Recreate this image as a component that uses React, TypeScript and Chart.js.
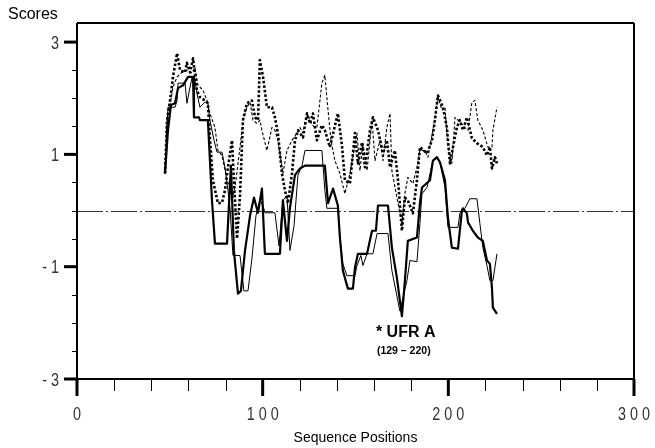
import { useEffect, useRef } from 'react';
import { Chart, registerables } from 'chart.js';

Chart.register(...registerables);

// ---- data (sequence position, score) ----
const thickSolidX = [47.4, 49.0, 50.6, 52.8, 54.4, 57.1, 59.8, 62.5, 63.0, 65.7, 66.2, 70.5, 72.7, 74.3, 80.8, 82.9, 84.5, 86.7, 88.3, 90.5, 93.2, 95.3, 97.5, 99.6, 101.2, 109.3, 110.9, 113.1, 114.7, 117.4, 120.1, 122.8, 133.5, 135.2, 137.9, 140.5, 141.6, 143.2, 145.9, 148.6, 149.7, 151.3, 156.2, 158.9, 161.0, 162.1, 167.5, 169.6, 172.3, 175.0, 176.6, 178.2, 183.1, 184.7, 185.8, 190.1, 191.7, 193.9, 195.5, 198.2, 199.8, 201.9, 205.2, 207.3, 207.9, 210.0, 210.6, 213.2, 215.9, 218.6, 220.8, 222.4, 223.5, 224.0, 226.2];
const thickSolidY = [0.66, 1.43, 1.88, 1.91, 2.18, 2.23, 2.38, 2.38, 1.66, 1.66, 1.61, 1.61, 0.18, -0.59, -0.59, 0.80, -0.71, -1.48, -1.43, -0.71, -0.09, 0.23, -0.04, 0.39, -0.77, -0.77, 0.18, -0.54, 0.05, 0.63, 0.75, 0.80, 0.80, 0.13, 0.39, 0.09, -0.48, -1.07, -1.39, -1.39, -1.02, -0.77, -0.77, -0.36, -0.36, 0.09, 0.09, -0.66, -1.20, -1.88, -1.25, -0.54, -0.48, 0.13, 0.41, 0.54, 0.89, 0.95, 0.86, 0.54, -0.13, -0.66, -0.68, 0.00, 0.04, -0.05, -0.21, -0.36, -0.48, -0.54, -0.89, -0.95, -1.38, -1.73, -1.84];

const thinSolidX = [47.4, 49.0, 52.8, 53.9, 54.4, 58.2, 59.2, 60.9, 61.9, 63.5, 64.6, 66.2, 68.9, 70.5, 71.6, 73.8, 75.4, 78.1, 79.7, 81.3, 82.4, 84.0, 87.8, 89.9, 92.1, 94.2, 96.4, 98.5, 100.2, 101.2, 106.6, 108.8, 110.9, 113.1, 114.7, 116.9, 119.0, 121.2, 122.8, 131.9, 133.5, 134.6, 140.5, 141.6, 143.2, 145.4, 149.7, 150.8, 152.9, 154.0, 156.2, 159.4, 161.6, 167.5, 169.6, 173.9, 175.6, 177.7, 179.3, 183.1, 184.7, 185.8, 188.5, 191.7, 193.9, 195.5, 198.2, 199.8, 205.2, 206.2, 208.9, 211.6, 215.4, 217.0, 218.6, 220.8, 222.4, 224.0, 226.2];
const thinSolidY = [0.66, 1.84, 1.84, 1.96, 2.27, 2.27, 1.91, 2.20, 2.36, 2.32, 2.09, 1.84, 1.93, 1.91, 1.61, 1.25, 1.04, 1.04, 0.77, 0.36, 0.05, -0.80, -0.80, -1.43, -1.43, -0.86, -0.09, 0.18, 0.09, -0.04, -0.04, -0.63, 0.18, 0.27, -0.71, -0.27, 0.63, 0.80, 1.07, 1.07, 0.36, 0.04, 0.04, -0.48, -0.95, -1.16, -1.16, -0.98, -0.80, -0.98, -0.77, -0.77, -0.41, -0.41, -1.07, -1.79, -1.55, -1.25, -0.89, -0.91, -0.23, 0.30, 0.41, 0.89, 0.93, 0.86, 0.41, -0.30, -0.30, -0.05, 0.04, 0.21, 0.21, -0.23, -0.66, -0.98, -1.25, -1.25, -0.77];

const thickDotX = [47.4, 48.5, 50.1, 51.7, 53.9, 55.5, 58.2, 59.2, 60.9, 62.5, 64.6, 66.2, 68.9, 70.5, 71.6, 73.2, 75.9, 78.1, 79.7, 81.3, 83.5, 84.5, 86.2, 87.8, 89.4, 91.5, 94.2, 95.9, 97.5, 98.5, 100.2, 102.3, 105.0, 106.6, 108.2, 110.4, 112.0, 113.6, 115.8, 117.4, 119.0, 121.7, 123.9, 125.5, 127.1, 129.2, 131.9, 133.5, 136.2, 140.5, 142.7, 144.3, 147.0, 149.7, 151.3, 153.5, 155.1, 157.8, 159.4, 162.1, 164.8, 166.9, 168.6, 171.2, 172.9, 175.0, 176.6, 178.2, 180.9, 183.1, 184.7, 188.5, 191.2, 192.8, 194.4, 197.1, 199.2, 200.9, 202.5, 204.6, 206.2, 207.9, 210.0, 212.7, 215.4, 218.6, 220.8, 222.4, 223.5, 225.1, 226.2];
const thickDotY = [0.66, 1.61, 1.96, 2.38, 2.80, 2.50, 2.46, 2.63, 2.46, 2.71, 2.14, 2.02, 1.96, 1.91, 1.30, 0.54, 0.13, 0.14, 0.36, 0.77, 1.25, 0.54, -0.50, 0.27, 1.61, 1.91, 1.96, 1.66, 1.61, 2.68, 2.38, 1.84, 1.84, 1.66, 1.38, 0.66, 0.36, 0.13, 0.66, 1.25, 1.43, 1.30, 1.73, 1.55, 1.73, 1.25, 1.52, 1.43, 1.13, 1.73, 1.16, 0.54, 0.48, 1.38, 0.84, 1.21, 0.77, 1.43, 1.66, 1.43, 1.02, 1.25, 0.77, 1.07, 0.54, -0.36, 0.23, 0.18, -0.05, 0.54, 1.13, 1.02, 1.25, 1.61, 2.05, 1.84, 1.48, 0.84, 1.13, 1.48, 1.61, 1.43, 1.66, 1.29, 1.20, 1.13, 0.98, 1.13, 0.75, 0.95, 0.84];

const thinDotX = [47.4, 48.5, 50.1, 51.7, 53.9, 56.5, 59.2, 61.9, 63.5, 65.2, 67.9, 70.0, 71.6, 74.3, 75.9, 78.1, 80.8, 82.4, 84.0, 85.6, 87.8, 89.4, 91.5, 93.2, 94.8, 96.9, 98.5, 99.6, 102.3, 105.0, 106.6, 108.2, 110.9, 113.1, 115.8, 118.5, 120.1, 121.7, 123.9, 126.5, 129.2, 131.9, 133.5, 135.2, 136.8, 138.9, 141.6, 144.3, 147.0, 150.8, 152.4, 154.0, 156.2, 158.9, 160.5, 163.2, 164.8, 166.9, 168.6, 169.6, 172.9, 175.0, 176.6, 178.2, 180.9, 183.1, 184.7, 187.4, 189.0, 191.7, 194.4, 196.6, 198.2, 199.8, 201.9, 203.6, 205.2, 208.9, 210.6, 212.7, 214.3, 215.9, 218.6, 221.3, 223.5, 224.0, 226.2];
const thinDotY = [0.71, 1.66, 1.88, 2.20, 2.38, 2.46, 2.50, 2.45, 2.55, 2.23, 2.14, 1.96, 1.73, 1.48, 1.07, 0.98, 0.54, 0.41, 0.23, 0.54, 1.13, 1.61, 1.84, 1.93, 1.61, 1.55, 1.61, 1.43, 1.07, 1.48, 1.43, 1.25, 0.66, 1.07, 1.25, 1.38, 1.48, 1.38, 1.73, 1.52, 1.48, 2.27, 2.41, 1.79, 1.25, 0.89, 0.66, 0.30, 0.66, 1.38, 0.71, 1.20, 0.71, 1.61, 0.89, 1.25, 0.89, 1.48, 1.73, 0.71, 0.13, -0.23, 0.30, 0.59, 0.48, 0.77, 1.07, 1.07, 0.95, 1.43, 2.02, 1.79, 1.84, 1.13, 0.84, 1.66, 1.61, 1.48, 1.43, 1.93, 1.96, 1.61, 1.43, 1.13, 1.13, 1.43, 1.84];

// ---- axes / ticks / text ----
const xLabelTicks = [0, 100, 200, 300];
const xMinorTicks = [20, 40, 60, 80, 120, 140, 160, 180, 220, 240, 260, 280];
const yLabelTicks = [-3, -1, 1, 3];
const yMinorTicks = [-2.5, -2, -1.5, -0.5, 0, 0.5, 1.5, 2, 2.5];
const yAxisTitle = 'Scores';
const xAxisTitle = 'Sequence Positions';
const noteTitle = '* UFR A';
const noteRange = '(129 – 220)';
const noteAt = { x: 161, y: -2.08 };

const zip = (xs: number[], ys: number[]) => xs.map((x, i) => ({ x, y: ys[i] }));
const fmtX = (v: number) => String(v).split('').join(' ');
const fmtY = (v: number) => (v < 0 ? '- ' + Math.abs(v) : String(v));

const decor = {
  id: 'decor',
  beforeDatasetsDraw(chart: any) {
    const { ctx, chartArea: a, scales } = chart;
    const y0 = Math.round(scales.y.getPixelForValue(0)) + 0.5;
    ctx.save();
    ctx.strokeStyle = '#333';
    ctx.lineWidth = 1;
    ctx.setLineDash([26, 3, 2, 3]);
    ctx.beginPath();
    ctx.moveTo(a.left, y0);
    ctx.lineTo(a.right, y0);
    ctx.stroke();
    ctx.restore();
  },
  afterDraw(chart: any) {
    const { ctx, chartArea: a, scales } = chart;
    const xs = scales.x;
    const ys = scales.y;
    ctx.save();
    ctx.strokeStyle = '#000';
    ctx.fillStyle = '#000';
    ctx.setLineDash([]);
    const seg = (x1: number, y1: number, x2: number, y2: number, w: number) => {
      ctx.lineWidth = w;
      ctx.beginPath();
      ctx.moveTo(x1, y1);
      ctx.lineTo(x2, y2);
      ctx.stroke();
    };
    // frame
    seg(a.left, a.top, a.right, a.top, 2);
    seg(a.right, a.top, a.right, a.bottom, 2);
    seg(a.left, a.top, a.left, a.bottom, 2);
    seg(a.left - 13, a.bottom, a.right, a.bottom, 2);
    // x ticks
    xLabelTicks.forEach((v) => {
      const p = xs.getPixelForValue(v);
      seg(p, a.bottom, p, a.bottom + 17, 3);
    });
    xMinorTicks.forEach((v) => {
      const p = Math.round(xs.getPixelForValue(v)) + 0.5;
      seg(p, a.bottom, p, a.bottom + 12, 1);
    });
    // y ticks
    yLabelTicks.forEach((v) => {
      const p = ys.getPixelForValue(v);
      seg(a.left - 13, p, a.left, p, 3);
    });
    yMinorTicks.forEach((v) => {
      const p = Math.round(ys.getPixelForValue(v)) + 0.5;
      seg(a.left - 5, p, a.left, p, 1);
    });
    // tick labels (narrowed sans)
    ctx.fillStyle = '#333';
    ctx.font = '18px "Liberation Sans", Arial, sans-serif';
    ctx.textBaseline = 'alphabetic';
    const narrow = (text: string, x: number, y: number, align: 'center' | 'right') => {
      ctx.save();
      ctx.translate(x, y);
      ctx.scale(0.8, 1);
      ctx.textAlign = align;
      ctx.fillText(text, 0, 0);
      ctx.restore();
    };
    xLabelTicks.forEach((v) => narrow(fmtX(v), xs.getPixelForValue(v), a.bottom + 41, 'center'));
    yLabelTicks.forEach((v) => narrow(fmtY(v), a.left - 18, ys.getPixelForValue(v) + 6.5, 'right'));
    // titles
    ctx.fillStyle = '#000';
    ctx.font = '16px "Liberation Sans", Arial, sans-serif';
    ctx.textAlign = 'left';
    ctx.fillText(yAxisTitle, 8, 19);
    ctx.font = '14px "Liberation Sans", Arial, sans-serif';
    ctx.textAlign = 'center';
    ctx.fillText(xAxisTitle, (a.left + a.right) / 2, 442);
    // annotation
    const nx = xs.getPixelForValue(noteAt.x);
    const ny = ys.getPixelForValue(noteAt.y);
    ctx.textAlign = 'left';
    ctx.font = 'bold 16px "Liberation Sans", Arial, sans-serif';
    ctx.fillText(noteTitle, nx, ny + 10);
    ctx.font = 'bold 10.5px "Liberation Sans", Arial, sans-serif';
    ctx.fillText(noteRange, nx + 1, ny + 27);
    ctx.restore();
  },
};

export default function App() {
  const ref = useRef<HTMLCanvasElement | null>(null);
  useEffect(() => {
    if (!ref.current) return;
    const line = (xs: number[], ys: number[], width: number, dash: number[]) => ({
      data: zip(xs, ys),
      borderColor: '#000',
      backgroundColor: '#000',
      borderWidth: width,
      borderDash: dash,
      pointRadius: 0,
      fill: false,
      tension: 0,
      borderJoinStyle: 'round' as const,
    });
    const chart = new Chart(ref.current, {
      type: 'line',
      data: {
        datasets: [
          line(thinDotX, thinDotY, 1.1, [3, 2]),
          line(thickDotX, thickDotY, 2.6, [2.5, 2]),
          line(thinSolidX, thinSolidY, 1, []),
          line(thickSolidX, thickSolidY, 2.2, []),
        ],
      },
      options: {
        animation: false,
        responsive: false,
        devicePixelRatio: 1,
        layout: { padding: { top: 23, right: 21, left: 0, bottom: 0 } },
        plugins: { legend: { display: false }, tooltip: { enabled: false } },
        scales: {
          x: {
            type: 'linear',
            min: 0,
            max: 300,
            grid: { display: false },
            border: { display: false },
            ticks: { display: false },
            afterFit: (s: any) => { s.height = 69; s.paddingLeft = 0; s.paddingRight = 0; },
          },
          y: {
            type: 'linear',
            min: -3,
            max: 3.34,
            grid: { display: false },
            border: { display: false },
            ticks: { display: false },
            afterFit: (s: any) => { s.width = 77; s.paddingTop = 0; s.paddingBottom = 0; },
          },
        },
      },
      plugins: [decor],
    });
    return () => chart.destroy();
  }, []);
  return (
    <div style={{ position: 'absolute', left: 0, top: 0, width: 655, height: 448, background: '#fff' }}>
      <canvas ref={ref} width={655} height={448} style={{ display: 'block' }} />
    </div>
  );
}
